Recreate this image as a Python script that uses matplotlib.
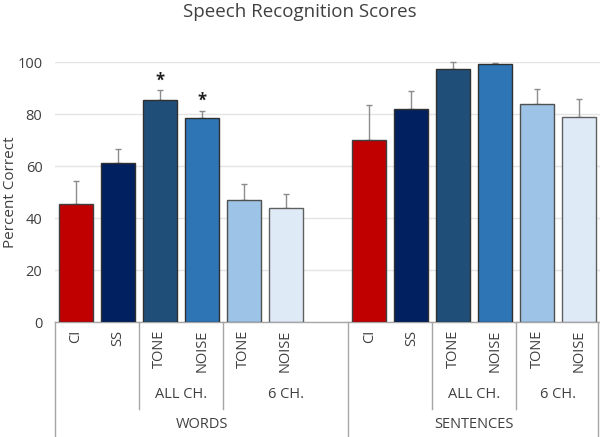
import matplotlib
matplotlib.use("Agg")
import matplotlib.pyplot as plt
from matplotlib.lines import Line2D
import numpy as np

plt.rcParams['font.family'] = ['Open Sans', 'DejaVu Sans']

conditions = ["CI", "SS", "TONE", "NOISE", "TONE", "NOISE"]
subgroups = ["ALL CH.", "6 CH."]
groups = ["WORDS", "SENTENCES"]
words_vals = [45.6, 61.4, 85.4, 78.7, 47.0, 44.0]
words_err = [8.7, 5.4, 3.8, 2.6, 6.0, 5.1]
sent_vals = [70.0, 81.9, 97.5, 99.5, 84.0, 79.0]
sent_err = [13.4, 7.2, 2.5, 0.2, 5.6, 6.9]
colors = ["#C00000", "#002060", "#1F4E79", "#2E75B6", "#9DC3E6", "#DEEBF7"]
edges = ["#404040", "#303030", "#303030", "#303030", "#505050", "#606060"]
stars = [False, False, True, True, False, False]

W, H = 600, 437
fig = plt.figure(figsize=(W / 100, H / 100), dpi=100)
ax = fig.add_axes([55 / W, 1 - 322 / H, 545 / W, (322 - 62.3) / H])

tc = "#404040"
fs = 10.5
xw = np.arange(6)
xs = np.arange(7, 13)
for xpos, vals, errs in [(xw, words_vals, words_err), (xs, sent_vals, sent_err)]:
    ax.bar(xpos, vals, width=0.81, color=colors, edgecolor=edges, linewidth=1.0, zorder=3)
    ax.errorbar(xpos, vals, yerr=[np.zeros(len(vals)), errs], fmt="none",
                ecolor="#8c8c8c", elinewidth=1.0, capsize=2.5, capthick=1.0, zorder=2, clip_on=False)

for x, v, e, s in zip(xw, words_vals, words_err, stars):
    if s:
        ax.text(x, v + e + 0.3, "*", ha="center", va="bottom", fontsize=12,
                fontweight="bold", color="#202020")

ax.set_xlim(-0.5, 12.5)
ax.set_ylim(0, 100)
ax.set_yticks([0, 20, 40, 60, 80, 100])
ax.tick_params(axis="y", length=0, labelsize=fs, labelcolor=tc, pad=9)
ax.set_xticks([])
ax.grid(axis="y", color="#e4e4e4", linewidth=1.0, zorder=0)
for sp in ["top", "right", "left"]:
    ax.spines[sp].set_visible(False)
ax.spines["bottom"].set_color("#a6a6a6")
ax.spines["bottom"].set_linewidth(1.0)

ax.set_ylabel("Percent Correct", fontsize=11, color=tc, va="center")
ax.yaxis.set_label_coords((11 - 55) / 545, 0.5)
fig.text(0.5, 1 - 12 / H, "Speech Recognition Scores", ha="center", va="center",
         fontsize=13.5, color=tc)

trans = ax.get_xaxis_transform()
def fy(py):
    return -(py - 322) / (322 - 62.3)

for xpos in (xw, xs):
    for x, c in zip(xpos, conditions):
        ax.text(x, fy(330), c, rotation=90, ha="center", va="top", fontsize=fs,
                color=tc, transform=trans)

sub_centers = [2.5, 5.0, 9.5, 11.5]
for x, lab in zip(sub_centers, subgroups * 2):
    ax.text(x, fy(395), lab, ha="center", va="center", fontsize=fs, color=tc, transform=trans)
for x, lab in zip([3.0, 9.5], groups):
    ax.text(x, fy(425), lab, ha="center", va="center", fontsize=fs, color=tc, transform=trans)

lc = "#a6a6a6"
for x in [1.5, 3.5, 8.5, 10.5]:
    ax.add_line(Line2D([x, x], [0, fy(409)], color=lc, lw=1.0, transform=trans, clip_on=False))
for x in [-0.5, 6.5, 12.45]:
    ax.add_line(Line2D([x, x], [0, fy(440)], color=lc, lw=1.0, transform=trans, clip_on=False))

fig.savefig("out.png", dpi=100)
